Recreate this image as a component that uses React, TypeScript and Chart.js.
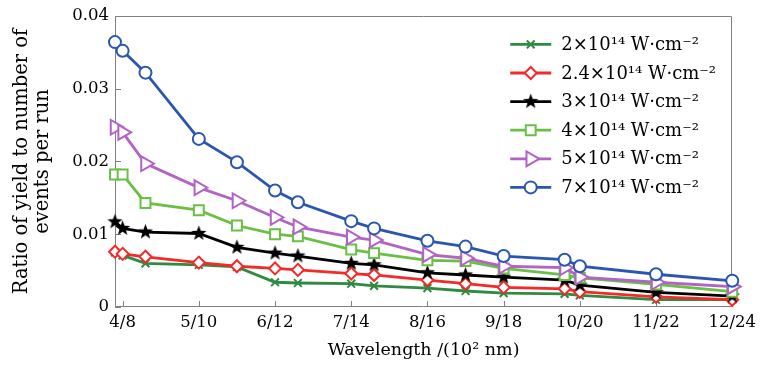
import React, { useEffect, useRef } from 'react';
import { Chart, registerables } from 'chart.js';

Chart.register(...registerables);

// ---- data ----
const wavelengths = [3.9, 4.0, 4.3, 5.0, 5.5, 6.0, 6.3, 7.0, 7.3, 8.0, 8.5, 9.0, 9.8, 10.0, 11.0, 12.0];
const xTickValues = [4, 5, 6, 7, 8, 9, 10, 11, 12];
const xTickLabels = ['4/8', '5/10', '6/12', '7/14', '8/16', '9/18', '10/20', '11/22', '12/24'];
const yTickValues = [0, 0.01, 0.02, 0.03, 0.04];
const yTickLabels = ['0', '0.01', '0.02', '0.03', '0.04'];
const seriesLabels = [
  '2×10¹⁴ W·cm⁻²',
  '2.4×10¹⁴ W·cm⁻²',
  '3×10¹⁴ W·cm⁻²',
  '4×10¹⁴ W·cm⁻²',
  '5×10¹⁴ W·cm⁻²',
  '7×10¹⁴ W·cm⁻²',
];
const ratio2 = [0.0075, 0.0071, 0.0060, 0.0058, 0.0055, 0.0034, 0.0033, 0.0032, 0.0029, 0.0026, 0.0022, 0.0019, 0.0018, 0.0016, 0.0010, 0.0010];
const ratio24 = [0.0076, 0.0073, 0.0069, 0.0061, 0.0056, 0.0053, 0.0051, 0.0046, 0.0044, 0.0037, 0.0032, 0.0027, 0.0025, 0.0021, 0.0014, 0.0010];
const ratio3 = [0.0117, 0.0108, 0.0103, 0.0101, 0.0082, 0.0074, 0.0070, 0.0060, 0.0058, 0.0047, 0.0044, 0.0041, 0.0037, 0.0030, 0.0020, 0.0015];
const ratio4 = [0.0182, 0.0182, 0.0143, 0.0133, 0.0112, 0.0100, 0.0097, 0.0079, 0.0074, 0.0064, 0.0063, 0.0053, 0.0044, 0.0040, 0.0031, 0.0021];
const ratio5 = [0.0247, 0.0240, 0.0197, 0.0164, 0.0146, 0.0123, 0.0110, 0.0096, 0.0092, 0.0072, 0.0067, 0.0056, 0.0054, 0.0041, 0.0034, 0.0028];
const ratio7 = [0.0364, 0.0352, 0.0322, 0.0231, 0.0199, 0.0160, 0.0144, 0.0118, 0.0108, 0.0091, 0.0083, 0.0070, 0.0065, 0.0056, 0.0045, 0.0036];

const FONT = '"DejaVu Serif", serif';

function makeStar(size: number, color: string) {
  const c = document.createElement('canvas');
  c.width = size;
  c.height = size;
  const g = c.getContext('2d')!;
  const cx = size / 2, cy = size / 2, R = size / 2 - 0.5, r = R * 0.42;
  g.beginPath();
  for (let i = 0; i < 10; i++) {
    const a = -Math.PI / 2 + (i * Math.PI) / 5;
    const rr = i % 2 === 0 ? R : r;
    g.lineTo(cx + rr * Math.cos(a), cy + rr * Math.sin(a));
  }
  g.closePath();
  g.fillStyle = color;
  g.fill();
  return c;
}

function drawMarker(ctx: CanvasRenderingContext2D, ds: any, x: number, y: number) {
  const style = ds.pointStyle;
  const r = ds.pointRadius;
  ctx.save();
  ctx.strokeStyle = ds.pointBorderColor;
  ctx.fillStyle = ds.pointBackgroundColor;
  ctx.lineWidth = ds.pointBorderWidth;
  if (style instanceof HTMLCanvasElement) {
    ctx.drawImage(style, x - style.width / 2, y - style.height / 2);
    ctx.restore();
    return;
  }
  ctx.beginPath();
  if (style === 'circle') {
    ctx.arc(x, y, r, 0, Math.PI * 2);
    ctx.fill();
    ctx.stroke();
  } else if (style === 'rect') {
    const s = Math.SQRT1_2 * r;
    ctx.rect(x - s, y - s, 2 * s, 2 * s);
    ctx.fill();
    ctx.stroke();
  } else if (style === 'rectRot') {
    ctx.moveTo(x, y - r);
    ctx.lineTo(x + r, y);
    ctx.lineTo(x, y + r);
    ctx.lineTo(x - r, y);
    ctx.closePath();
    ctx.fill();
    ctx.stroke();
  } else if (style === 'triangle') {
    let rad = ((ds.pointRotation || 0) * Math.PI) / 180;
    ctx.moveTo(x + Math.sin(rad) * r, y - Math.cos(rad) * r);
    rad += (2 * Math.PI) / 3;
    ctx.lineTo(x + Math.sin(rad) * r, y - Math.cos(rad) * r);
    rad += (2 * Math.PI) / 3;
    ctx.lineTo(x + Math.sin(rad) * r, y - Math.cos(rad) * r);
    ctx.closePath();
    ctx.fill();
    ctx.stroke();
  } else if (style === 'crossRot') {
    const d = Math.SQRT1_2 * r;
    ctx.moveTo(x - d, y - d);
    ctx.lineTo(x + d, y + d);
    ctx.moveTo(x - d, y + d);
    ctx.lineTo(x + d, y - d);
    ctx.stroke();
  }
  ctx.restore();
}

const framePlugin = {
  id: 'frameTicksLegend',
  beforeDatasetsDraw(chart: any) {
    const { ctx, chartArea, scales } = chart;
    const { left, right, top, bottom } = chartArea;
    ctx.save();
    ctx.strokeStyle = '#808080';
    ctx.lineWidth = 1;
    ctx.beginPath();
    ctx.rect(Math.round(left) + 0.5, Math.round(top) + 0.5, Math.round(right - left) - 1, Math.round(bottom - top) - 1);
    ctx.stroke();
    ctx.beginPath();
    scales.x.ticks.forEach((t: any) => {
      const px = Math.round(scales.x.getPixelForValue(t.value)) + 0.5;
      ctx.moveTo(px, bottom);
      ctx.lineTo(px, bottom - 6);
    });
    scales.y.ticks.forEach((t: any) => {
      const py = Math.round(scales.y.getPixelForValue(t.value)) + 0.5;
      ctx.moveTo(left, py);
      ctx.lineTo(left + 6, py);
    });
    ctx.stroke();
    ctx.restore();
  },
  afterDraw(chart: any) {
    const { ctx, chartArea } = chart;
    const { right, top } = chartArea;
    const x1 = right - 222;
    const x2 = right - 181;
    const xt = right - 171;
    ctx.save();
    chart.data.datasets.forEach((ds: any, i: number) => {
      const y = top + 28.5 + i * 28.6;
      ctx.strokeStyle = ds.borderColor;
      ctx.lineWidth = ds.borderWidth;
      ctx.beginPath();
      ctx.moveTo(x1, y);
      ctx.lineTo(x2, y);
      ctx.stroke();
      drawMarker(ctx, ds, (x1 + x2) / 2, y);
      ctx.fillStyle = '#000';
      ctx.font = `18px ${FONT}`;
      ctx.textBaseline = 'middle';
      ctx.textAlign = 'left';
      ctx.fillText(ds.label, xt, y + 1);
    });
    ctx.restore();
  },
};

const seriesValues = [ratio2, ratio24, ratio3, ratio4, ratio5, ratio7];

export default function App() {
  const ref = useRef<HTMLCanvasElement | null>(null);
  useEffect(() => {
    if (!ref.current) return;
    const star = makeStar(17, '#000');
    const styles = [
      { color: '#2f8a42', pointStyle: 'crossRot', radius: 5.5, bg: '#2f8a42' },
      { color: '#f42a2a', pointStyle: 'rectRot', radius: 6, bg: '#ffffff' },
      { color: '#000000', pointStyle: star, radius: 8, bg: '#000000' },
      { color: '#6abf45', pointStyle: 'rect', radius: 7, bg: '#ffffff' },
      { color: '#b263c4', pointStyle: 'triangle', radius: 8.5, bg: '#ffffff', rotation: 90 },
      { color: '#2a56b2', pointStyle: 'circle', radius: 6, bg: '#ffffff' },
    ];
    const datasets = seriesValues.map((vals, i) => ({
      label: seriesLabels[i],
      data: wavelengths.map((w, j) => ({ x: w, y: vals[j] })),
      borderColor: styles[i].color,
      backgroundColor: styles[i].color,
      borderWidth: 2.8,
      pointStyle: styles[i].pointStyle as any,
      pointRadius: styles[i].radius,
      pointRotation: (styles[i] as any).rotation || 0,
      pointBorderColor: styles[i].color,
      pointBackgroundColor: styles[i].bg,
      pointBorderWidth: 2,
      tension: 0,
      clip: false as any,
      order: 6 - i,
    }));
    const chart = new Chart(ref.current, {
      type: 'line',
      data: { datasets },
      options: {
        animation: false,
        responsive: false,
        layout: { padding: { top: 15, right: 28, left: 0, bottom: 0 } },
        plugins: { legend: { display: false }, tooltip: { enabled: false } },
        scales: {
          x: {
            type: 'linear',
            min: 3.9,
            max: 12,
            grid: { display: false, drawTicks: false },
            border: { display: false },
            afterBuildTicks: (scale: any) => {
              scale.ticks = xTickValues.map((v) => ({ value: v }));
            },
            afterFit: (scale: any) => {
              scale.height = 59;
            },
            ticks: {
              autoSkip: false,
              maxRotation: 0,
              padding: 6,
              color: '#000',
              font: { family: FONT, size: 16.5 },
              callback: (v: any) => {
                const i = xTickValues.indexOf(Number(v));
                return i >= 0 ? xTickLabels[i] : '';
              },
            },
            title: {
              display: true,
              text: 'Wavelength /(10² nm)',
              color: '#000',
              font: { family: FONT, size: 17.5, lineHeight: 1.2 },
              padding: { top: 0, bottom: 5 },
            },
          },
          y: {
            type: 'linear',
            min: 0,
            max: 0.04,
            grid: { display: false, drawTicks: false },
            border: { display: false },
            afterBuildTicks: (scale: any) => {
              scale.ticks = yTickValues.map((v) => ({ value: v }));
            },
            afterFit: (scale: any) => {
              scale.width = 115;
            },
            ticks: {
              padding: 6,
              color: '#000',
              font: { family: FONT, size: 16.5 },
              callback: (v: any) => {
                const i = yTickValues.findIndex((t) => Math.abs(t - Number(v)) < 1e-9);
                return i >= 0 ? yTickLabels[i] : '';
              },
            },
            title: {
              display: true,
              text: ['Ratio of yield to number of', 'events per run'],
              color: '#000',
              font: { family: FONT, size: 19.5, lineHeight: 1.06 },
              padding: { top: 12, bottom: 0 },
            },
          },
        },
      },
      plugins: [framePlugin],
    });
    return () => chart.destroy();
  }, []);
  return (
    <div style={{ position: 'absolute', left: 0, top: 0, width: 762, height: 366, background: '#fff' }}>
      <canvas ref={ref} width={762} height={366} style={{ width: 762, height: 366, display: 'block' }} />
    </div>
  );
}
